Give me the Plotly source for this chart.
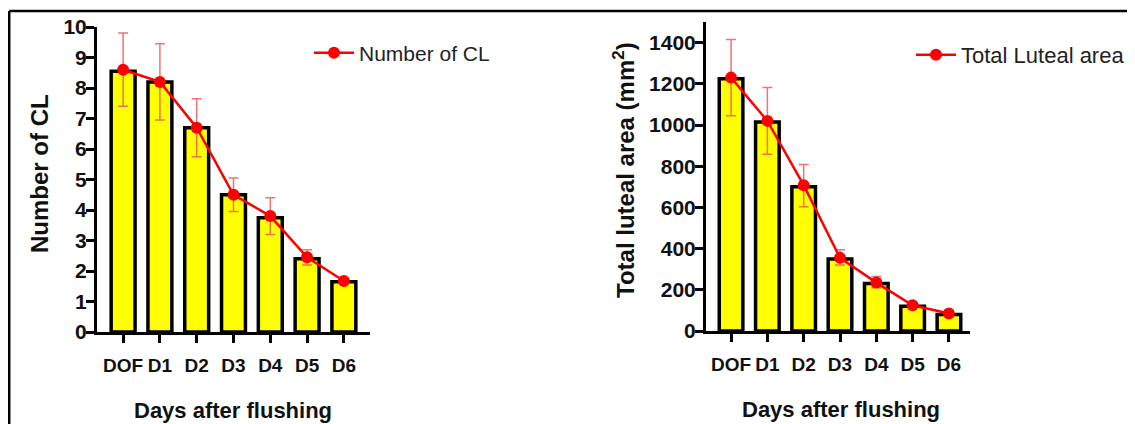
import plotly.graph_objects as go

days = ["DOF", "D1", "D2", "D3", "D4", "D5", "D6"]

cl_bar = [8.55, 8.2, 6.7, 4.5, 3.75, 2.4, 1.65]
cl_mean = [8.6, 8.2, 6.7, 4.5, 3.8, 2.45, 1.67]
cl_err_up = [1.2, 1.25, 0.95, 0.55, 0.6, 0.25, 0.05]
cl_err_down = [1.2, 1.25, 0.95, 0.55, 0.6, 0.25, 0.05]

area_bar = [1225, 1015, 700, 350, 230, 120, 80]
area_mean = [1230, 1020, 708, 355, 235, 125, 85]
area_err_up = [185, 162, 100, 40, 30, 12, 8]
area_err_down = [185, 162, 105, 35, 25, 10, 8]

FONT = "Liberation Sans, Arial, sans-serif"
TXT = "#111111"
W, H = 1135, 424
OFF = 8  # page body margin


def px(x):
    return (x - OFF) / W


def py(y):
    return 1 - (y - OFF) / H


fig = go.Figure()

# Left panel
fig.add_trace(go.Bar(x=days, y=cl_bar, xaxis="x", yaxis="y", width=0.65,
                     marker=dict(color="#FFFF00", line=dict(color="black", width=3.5)),
                     showlegend=False, hoverinfo="skip"))
fig.add_trace(go.Scatter(x=days, y=cl_mean, xaxis="x", yaxis="y", mode="lines+markers",
                         name="Number of CL", legend="legend",
                         line=dict(color="#FF0000", width=2.5),
                         marker=dict(color="#FF0000", size=12),
                         error_y=dict(type="data", array=cl_err_up, arrayminus=cl_err_down,
                                      color="rgba(240,90,90,0.85)", thickness=1.5, width=5)))

# Right panel
fig.add_trace(go.Bar(x=days, y=area_bar, xaxis="x2", yaxis="y2", width=0.65,
                     marker=dict(color="#FFFF00", line=dict(color="black", width=3.5)),
                     showlegend=False, hoverinfo="skip"))
fig.add_trace(go.Scatter(x=days, y=area_mean, xaxis="x2", yaxis="y2", mode="lines+markers",
                         name="Total Luteal area", legend="legend2",
                         line=dict(color="#FF0000", width=2.5),
                         marker=dict(color="#FF0000", size=12),
                         error_y=dict(type="data", array=area_err_up, arrayminus=area_err_down,
                                      color="rgba(240,90,90,0.85)", thickness=1.5, width=5)))

xtickfont = dict(family=FONT, size=19, color=TXT, weight="bold")
ytickfont = dict(family=FONT, size=21, color=TXT, weight="bold")
axis_common = dict(showline=True, linecolor="black", linewidth=3, ticks="outside",
                   ticklen=8, tickwidth=2.5, tickcolor="black", showgrid=False,
                   zeroline=False, fixedrange=True, automargin=False)

fig.update_layout(
    width=W, height=H,
    margin=dict(l=0, r=0, t=0, b=0, autoexpand=False),
    paper_bgcolor="white", plot_bgcolor="white",
    xaxis=dict(domain=[px(97), px(370)], anchor="y", range=[-0.71, 6.71],
               type="category", tickfont=xtickfont, ticklabelstandoff=6, **axis_common),
    yaxis=dict(domain=[py(332), py(27)], anchor="x", range=[0, 10], dtick=1,
               tickfont=ytickfont, ticklabelstandoff=-5, **axis_common),
    xaxis2=dict(domain=[px(706), px(970)], anchor="y2", range=[-0.69, 6.58],
                type="category", tickfont=xtickfont, ticklabelstandoff=6, **axis_common),
    yaxis2=dict(domain=[py(331), py(22)], anchor="x2", range=[0, 1500],
                tickvals=[0, 200, 400, 600, 800, 1000, 1200, 1400],
                tickfont=ytickfont, ticklabelstandoff=-5, **axis_common),
    legend=dict(x=px(309), y=py(53), xanchor="left", yanchor="middle", itemwidth=40,
                font=dict(family=FONT, size=21, color="#222222"),
                bgcolor="rgba(0,0,0,0)"),
    legend2=dict(x=px(911), y=py(55), xanchor="left", yanchor="middle", itemwidth=40,
                 font=dict(family=FONT, size=22, color="#222222"),
                 bgcolor="rgba(0,0,0,0)"),
    shapes=[
        dict(type="line", xref="paper", yref="paper", x0=1.2 / W, x1=1, y0=py(11), y1=py(11),
             line=dict(color="black", width=2.5)),
        dict(type="line", xref="paper", yref="paper", x0=1.2 / W, x1=1.2 / W, y0=py(11), y1=0,
             line=dict(color="black", width=2.5)),
    ],
    annotations=[
        dict(text="Days after flushing", xref="paper", yref="paper", x=px(233), y=py(410),
             showarrow=False, xanchor="center", yanchor="middle",
             font=dict(family=FONT, size=22, color=TXT, weight="bold")),
        dict(text="Days after flushing", xref="paper", yref="paper", x=px(841), y=py(409),
             showarrow=False, xanchor="center", yanchor="middle",
             font=dict(family=FONT, size=22, color=TXT, weight="bold")),
        dict(text="Number of CL", xref="paper", yref="paper", x=px(39), y=py(174),
             showarrow=False, xanchor="center", yanchor="middle", textangle=-90,
             font=dict(family=FONT, size=24, color=TXT, weight="bold")),
        dict(text="Total luteal area (mm<sup>2</sup>)", xref="paper", yref="paper",
             x=px(624), y=py(170), showarrow=False, xanchor="center", yanchor="middle",
             textangle=-90, font=dict(family=FONT, size=24, color=TXT, weight="bold")),
    ],
)

fig.write_html("out.html")
